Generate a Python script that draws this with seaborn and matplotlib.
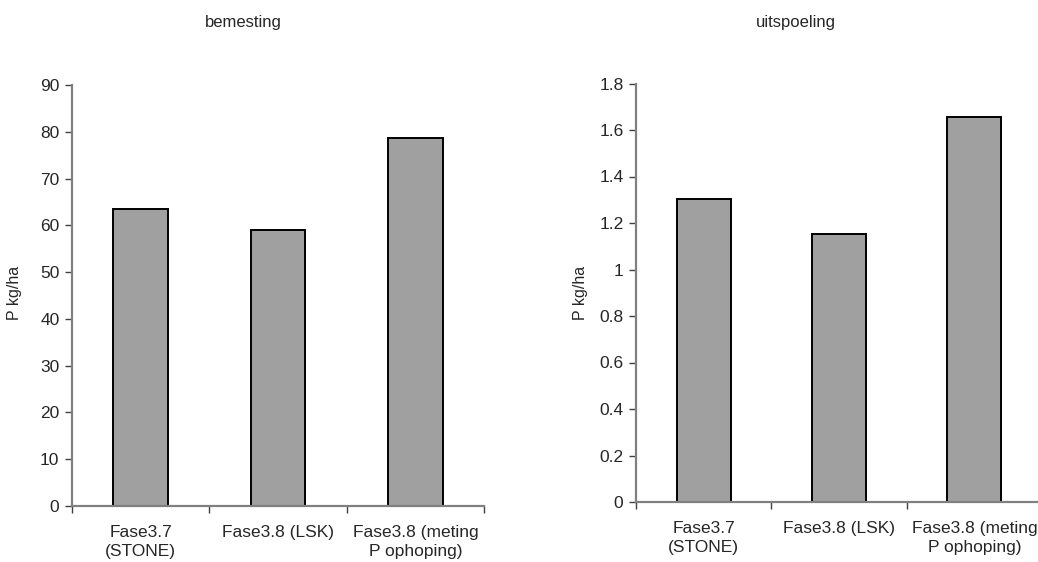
import matplotlib
matplotlib.use("Agg")
import matplotlib.pyplot as plt
import seaborn as sns
import pandas as pd
import numpy as np

categories = ["Fase3.7\n(STONE)", "Fase3.8 (LSK)", "Fase3.8 (meting\nP ophoping)"]
bemesting = [63.4, 58.9, 78.7]
uitspoeling = [1.304, 1.154, 1.657]
titles = ["bemesting", "uitspoeling"]
ylabel = "P kg/ha"
left_ticks = [0, 10, 20, 30, 40, 50, 60, 70, 80, 90]
right_ticks = [0, 0.2, 0.4, 0.6, 0.8, 1, 1.2, 1.4, 1.6, 1.8]
right_ticklabels = ["0", "0.2", "0.4", "0.6", "0.8", "1", "1.2", "1.4", "1.6", "1.8"]

sns.set_theme(style="white")
plt.rcParams['font.family'] = ['Liberation Sans', 'DejaVu Sans']

W, H = 1038, 562
fig = plt.figure(figsize=(W / 100, H / 100), dpi=100)

def px_axes(x0, x1, ytop, ybot):
    return fig.add_axes([x0 / W, 1 - ybot / H, (x1 - x0) / W, (ybot - ytop) / H])

ax1 = px_axes(72, 484, 85, 506)
ax2 = px_axes(636, 1042, 83.5, 502)

def draw(ax, vals, ticks, ticklabels, ymax):
    df = pd.DataFrame({"cat": categories, "val": vals})
    sns.barplot(data=df, x="cat", y="val", ax=ax, color="#a0a0a0", width=0.4,
                edgecolor="black", linewidth=1.4, saturation=1)
    for p in ax.patches:
        p.set_facecolor("#a0a0a0")
    ax.set_xlim(-0.5, 2.5)
    ax.set_ylim(0, ymax)
    ax.set_yticks(ticks)
    ax.set_yticklabels(ticklabels, fontsize=12.5)
    ax.set_xlabel("")
    ax.set_ylabel("")
    ax.tick_params(axis="x", which="major", length=0, labelsize=12.5, pad=14)
    for lab in ax.get_xticklabels():
        lab.set_linespacing(1.3)
    ax.set_xticks([-0.5, 0.5, 1.5, 2.5], minor=True)
    ax.tick_params(axis="x", which="minor", length=5, width=1, color="#404040", direction="out", bottom=True)
    ax.tick_params(axis="y", length=5, width=1, color="#404040", direction="out", left=True, pad=4)
    for s in ["top", "right"]:
        ax.spines[s].set_visible(False)
    for s in ["left", "bottom"]:
        ax.spines[s].set_color("#808080")
        ax.spines[s].set_linewidth(1.6)

draw(ax1, bemesting, left_ticks, [str(t) for t in left_ticks], 90)
draw(ax2, uitspoeling, right_ticks, right_ticklabels, 1.8)

fig.text(243 / W, 1 - 22 / H, titles[0], ha="center", va="center", fontsize=12)
fig.text(796 / W, 1 - 22 / H, titles[1], ha="center", va="center", fontsize=12)
fig.text(15 / W, 1 - 293 / H, ylabel, rotation=90, ha="center", va="center", fontsize=11.5)
fig.text(580 / W, 1 - 293 / H, ylabel, rotation=90, ha="center", va="center", fontsize=11.5)

fig.savefig("out.png", dpi=100)
